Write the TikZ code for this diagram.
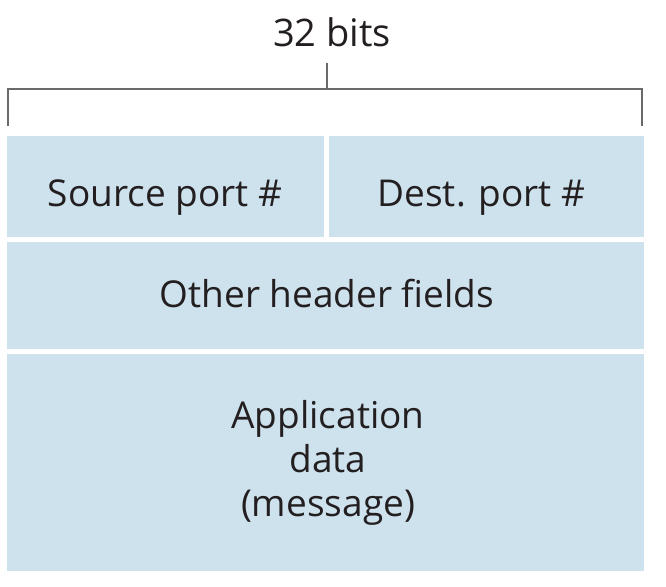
\documentclass[tikz,border=0pt]{standalone}
\usepackage{fontspec}
\setmainfont{Open Sans}
\definecolor{cellfill}{RGB}{206,226,238}
\definecolor{inkgray}{RGB}{35,31,32}
\definecolor{bracegray}{RGB}{105,106,108}
\begin{document}
\begin{tikzpicture}[x=1pt,y=-1pt,
  field/.style={fill=cellfill,draw=none},
  lbl/.style={anchor=base,inner sep=0pt,text=inkgray,font=\fontsize{37}{44}\selectfont},
  brace/.style={draw=bracegray,line width=2pt}]
\useasboundingbox (0,0) rectangle (666,586);
% header and payload fields
\fill[field] (7,136) rectangle (324,237);
\fill[field] (329,136) rectangle (644,237);
\fill[field] (7,242) rectangle (644,349);
\fill[field] (7,354) rectangle (644,571);
% field labels
\node[lbl] (src) at (165,206) {Source port \#};
\node[lbl] (dst) at (481.5,206) {Dest. port \#};
\node[lbl] (oth) at (327,307) {Other header fields};
\node[lbl] (app1) at (328,428) {Application};
\node[lbl] (app2) at (328,472) {data};
\node[lbl] (app3) at (328,516) {(message)};
% width bracket
\coordinate (bl) at (8,126);
\coordinate (blt) at (8,89);
\coordinate (brt) at (642,89);
\coordinate (br) at (642,126);
\coordinate (tk) at (327,89);
\coordinate (tkt) at (327,63);
\draw[brace] (bl) -- (blt) -- (brt) -- (br);
\draw[brace] (tk) -- (tkt);
\node[lbl,font=\fontsize{38}{44}\selectfont] (width) at (332,47) {32 bits};
\end{tikzpicture}
\end{document}
